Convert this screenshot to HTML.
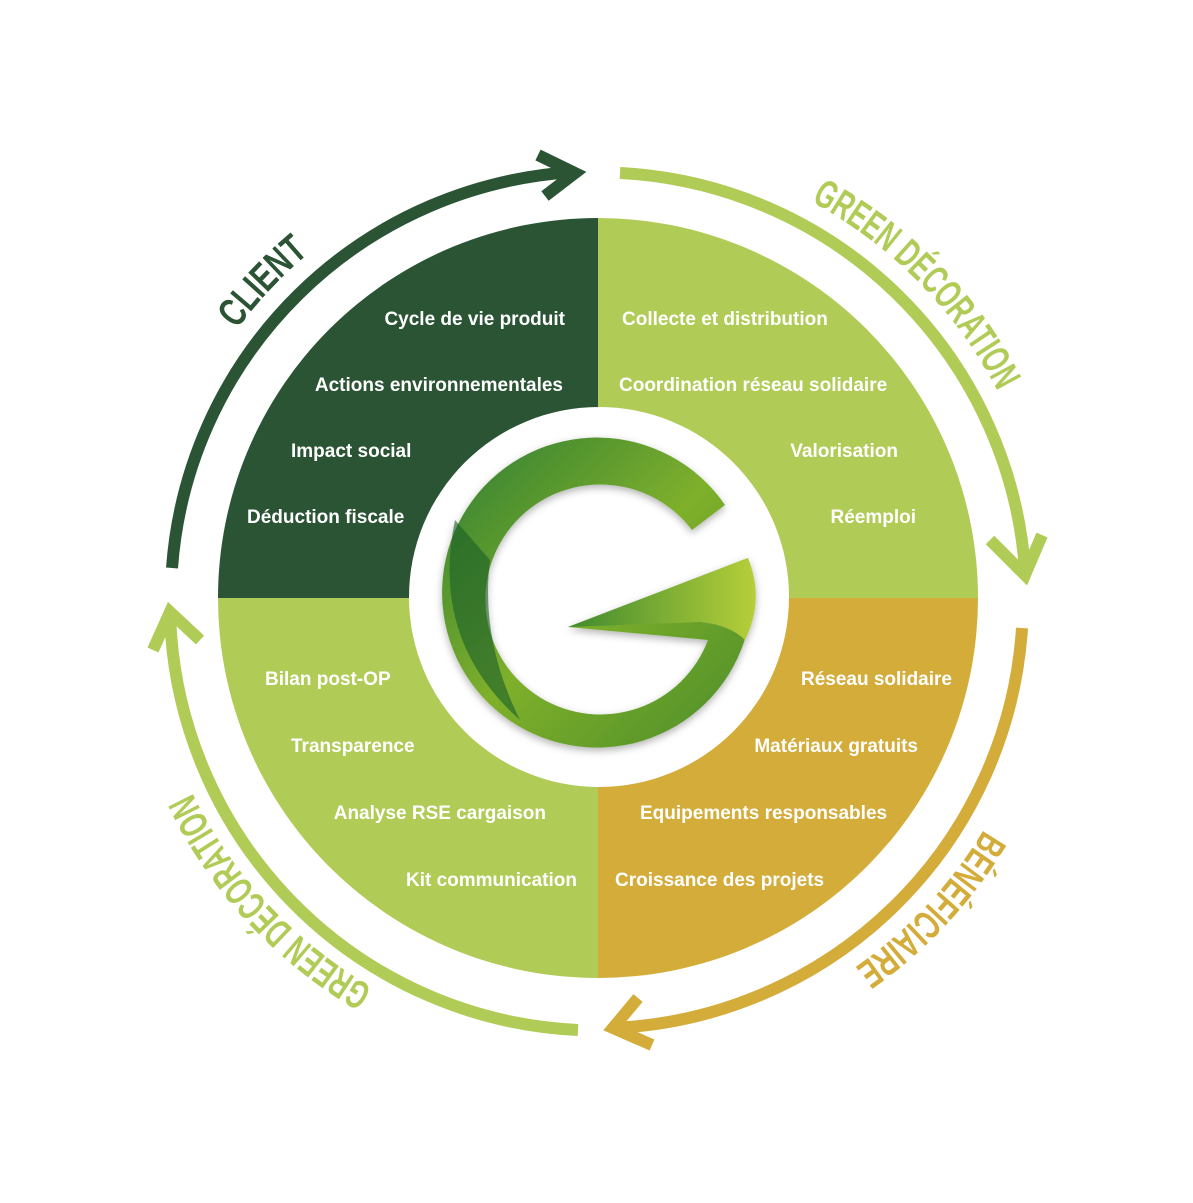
<!DOCTYPE html>
<html><head><meta charset="utf-8"><style>
html,body{margin:0;padding:0;background:#fff}
svg{display:block}
.t{font-family:"Liberation Sans",sans-serif;font-weight:bold;font-size:19px;fill:#fff}
.c{font-family:"Liberation Sans Narrow","Liberation Sans",sans-serif;font-weight:bold;font-size:40px}
</style></head><body>
<svg width="1193" height="1203" viewBox="0 0 1193 1203" xmlns="http://www.w3.org/2000/svg">
<defs>
<linearGradient id="g1" x1="0" y1="0" x2="1" y2="1">
<stop offset="0" stop-color="#2e7d32"/><stop offset="0.5" stop-color="#7fb02c"/><stop offset="1" stop-color="#4a8c2a"/>
</linearGradient>
<linearGradient id="g2" x1="0" y1="0" x2="1" y2="0">
<stop offset="0" stop-color="#3f8a2e"/><stop offset="1" stop-color="#b6cf3a"/>
</linearGradient>
<filter id="sh" x="-20%" y="-20%" width="140%" height="140%"><feDropShadow dx="0" dy="3" stdDeviation="4" flood-color="#000" flood-opacity="0.3"/></filter>
<path id="lab" d="M598,148 A450,450 0 1,1 597.9,148"/>
</defs>
<path d="M598,598 L598,218 A380,380 0 0,0 218,598 Z" fill="#2a5434"/>
<path d="M598,598 L598,218 A380,380 0 0,1 978,598 Z" fill="#b0cb56"/>
<path d="M598,598 L978,598 A380,380 0 0,1 598,978 Z" fill="#d4ac3a"/>
<path d="M598,598 L598,978 A380,380 0 0,1 218,598 Z" fill="#b0cb56"/>
<circle cx="599" cy="597" r="190" fill="#fff"/>
<g filter="url(#sh)">
<path d="M752,587 A155,155 0 1,1 725,505 L692,530 A115,115 0 1,0 708,640 L568,627 L748,558 Z" fill="url(#g1)"/>
<path d="M568,627 L748,558 Q765,600 745,640 Q730,625 700,622 Z" fill="url(#g2)"/>
<path d="M455,520 Q430,640 520,720 Q480,640 490,560 Z" fill="#1a5e2a" opacity="0.6"/>
</g>
<g fill="none" stroke-width="12" stroke-linecap="butt" stroke-linejoin="miter">
<path d="M172,568 A428,428 0 0,1 575,172" stroke="#2a5434"/>
<path d="M538,155 L575,173 L545,196" stroke="#2a5434"/>
<path d="M620,173 A428,428 0 0,1 1025,570" stroke="#b0cb56"/>
<path d="M990,540 L1025,575 L1042,535" stroke="#b0cb56"/>
<path d="M1022,628 A428,428 0 0,1 612,1028" stroke="#d4ac3a"/>
<path d="M652,1045 L613,1028 L638,998" stroke="#d4ac3a"/>
<path d="M578,1030 A428,428 0 0,1 170,612" stroke="#b0cb56"/>
<path d="M153,650 L170,612 L200,640" stroke="#b0cb56"/>
</g>
<text class="c" fill="#2a5434"><textPath href="#lab" startOffset="2408" textLength="105" lengthAdjust="spacingAndGlyphs">CLIENT</textPath></text>
<text class="c" fill="#b0cb56"><textPath href="#lab" startOffset="222" textLength="270" lengthAdjust="spacingAndGlyphs">GREEN DÉCORATION</textPath></text>
<text class="c" fill="#d4ac3a"><textPath href="#lab" startOffset="950" textLength="190" lengthAdjust="spacingAndGlyphs">BÉNÉFICIAIRE</textPath></text>
<text class="c" fill="#b0cb56"><textPath href="#lab" startOffset="1649" textLength="270" lengthAdjust="spacingAndGlyphs">GREEN DÉCORATION</textPath></text>
<g class="t">
<text x="565" y="325" text-anchor="end">Cycle de vie produit</text>
<text x="563" y="391" text-anchor="end">Actions environnementales</text>
<text x="291" y="457">Impact social</text>
<text x="247" y="523">Déduction fiscale</text>
<text x="622" y="325">Collecte et distribution</text>
<text x="619" y="391">Coordination réseau solidaire</text>
<text x="898" y="457" text-anchor="end">Valorisation</text>
<text x="916" y="523" text-anchor="end">Réemploi</text>
<text x="265" y="685">Bilan post-OP</text>
<text x="291" y="752">Transparence</text>
<text x="546" y="819" text-anchor="end">Analyse RSE cargaison</text>
<text x="577" y="886" text-anchor="end">Kit communication</text>
<text x="952" y="685" text-anchor="end">Réseau solidaire</text>
<text x="918" y="752" text-anchor="end">Matériaux gratuits</text>
<text x="640" y="819">Equipements responsables</text>
<text x="615" y="886">Croissance des projets</text>
</g>
</svg>
</body></html>
